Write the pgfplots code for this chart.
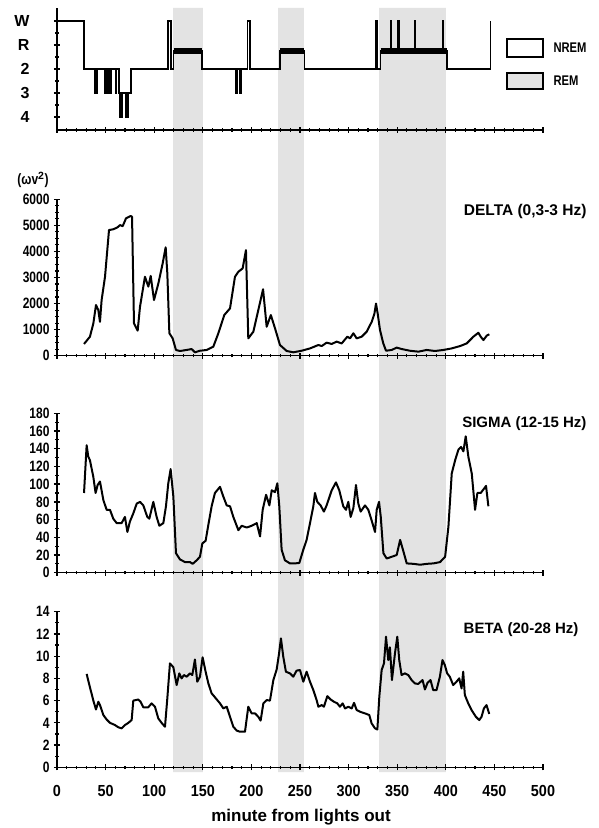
\documentclass[border=0pt]{standalone}
\usepackage{fontspec}
\setmainfont{Liberation Sans}
\newfontfamily\narrowsans[FakeStretch=0.8]{Liberation Sans}
\newfontfamily\xsans[FakeStretch=0.9]{Liberation Sans}
\usepackage{pgfplots}
\pgfplotsset{compat=1.18}

\pgfplotstableread{
x y
27.8 450
33.9 730
37.4 1240
40.1 1945
42.5 1750
44.2 1300
45.9 2135
49.4 3030
53.5 4820
57.9 4850
62.1 4920
64.8 5010
67.6 4970
71 5270
75.8 5360
77.2 5330
79.2 1240
83 960
85.4 1880
90.5 3030
92.2 2840
94 2650
96.4 3060
99.8 2135
104.3 2775
108.7 3540
111.8 4160
113.5 3160
115.6 860
119 665
122.4 220
126.5 180
133.4 220
138.5 255
141.9 130
147.1 190
154 220
160.8 345
166 860
172.1 1560
178 1815
183.1 3030
186.6 3220
191 3350
194.4 4050
196.8 665
202 920
207.1 1750
212 2550
215.7 1110
220 1560
224.3 1050
229.4 410
236.3 180
243.1 130
251.7 190
260.3 280
268.9 410
272.3 370
277.4 500
282.6 450
287.7 540
292.9 470
298.7 730
301.5 665
304.9 860
308.3 665
313.5 730
318.6 920
323.8 1300
326.5 1600
328.2 2000
329.9 1620
332.3 985
335.7 470
338.5 190
344.3 220
349.5 310
354.6 255
363.2 190
371.8 155
380.4 220
388.9 180
397.5 220
406.1 280
414.7 370
421.5 470
428.4 730
433.5 880
435.9 730
438.7 600
442.1 770
444.8 820
}\delta

\pgfplotstableread{
x y
27.8 90
30.5 144
32.2 131
33.9 127
37.4 108
39.7 90
41.8 99
44.2 103
47.7 82
51.1 71
54.5 71
57.9 61
61.4 56
66.5 56
69.9 63
72.4 46
75.1 58
78.5 67
82 78
85.4 80
88.8 76
92.9 63
95 61
99.1 80
102.5 63
105.3 53
109.4 56
112.1 75
114.5 101
116.9 117
119.7 86
122.4 22
126.5 15
131.7 12
136.8 12
139.6 10
143.7 14
147.1 18
149.5 33
152.9 36
155.7 54
159.1 75
162.5 90
167.7 97
171.1 86
174.6 76
178 75
181.4 63
186.6 48
190 53
195.2 51
200.3 53
205.5 56
208.9 41
211.6 71
215.1 88
218.5 76
220.9 93
224.3 91
226.7 101
228.7 75
231.1 26
234.5 14
239.7 10.5
244.8 10.5
249.3 11
253.4 26
256.8 37
260.3 56
263.7 75
265.4 90
267.8 80
271.2 76
274.6 69
277.4 76
282.6 93
287 102
290.4 93
294.5 75
297.3 71
299.7 80
302.1 63
304.9 73
307.6 99
310 78
312.4 69
316.9 76
320.3 71
323.7 59
327.2 46
328.9 71
331.3 80
333.1 63
335.8 22
339.2 16
344.4 18
349.5 20
353 37
356.4 24
359.8 10.5
366.7 10
373.6 9
380.4 10
387.3 10.5
394.1 12
399.3 18
402.7 52
406.1 112
409.6 127
413 139
415.7 142
418.1 137
420.5 154
423.2 131
426.7 112
430.1 71
432.5 90
435.9 90
439.4 95
441.4 98
443.8 75
}\sigmadata

\pgfplotstableread{
x y
30.5 8.4
33.9 7.2
37.4 6.0
40.1 5.2
42.5 5.9
44.2 5.6
47.7 4.7
51.1 4.3
54.5 4.0
59.7 3.8
63.1 3.6
66.5 3.5
69.9 3.8
73.4 4.0
76.8 4.25
78.5 6.0
83.6 6.1
86 5.9
88.8 5.4
93.9 5.4
97.3 5.75
100.8 5.45
104.2 4.4
107.6 4.0
111.1 3.65
113.5 6.2
116.2 9.35
119.7 9.0
123.1 7.4
125.8 8.45
128.2 8.0
130.6 8.3
133.4 8.15
136.8 8.45
139.2 8.3
141.9 9.7
144.3 7.7
147.1 8.15
149.8 9.9
152.9 8.6
155.7 7.55
159.1 6.65
162.5 6.3
167.7 5.75
171.1 5.3
174.6 5.45
178 4.55
181.4 3.65
184.9 3.3
188.3 3.2
193.4 3.2
196.8 5.45
200.3 4.85
203.7 4.85
207.1 4.55
209.5 4.2
212.3 5.75
215.7 6.05
219.1 6.0
222.6 7.85
226 8.8
228.4 10.2
230.4 11.6
232.8 9.95
235.5 8.6
239.7 8.45
243.1 8.15
246.5 8.7
250 8.75
253.4 7.7
256.8 8.6
260.3 7.7
263.7 6.95
267.1 6.05
268.9 5.45
272.3 5.6
274.6 5.45
278.1 6.4
281.5 6.1
284.9 5.9
288.4 5.75
291.1 5.45
293.9 5.75
296.3 5.3
299.7 5.45
303.2 5.3
305.6 5.8
308.3 5.15
311.7 5.0
316.9 4.85
321.3 4.7
323.7 3.95
327.2 3.5
329.6 3.4
331.6 6.35
334 8.75
336.4 9.35
338.5 11.75
340.8 9.65
342.5 10.8
344.6 7.85
347.7 10.25
350.1 11.75
352.1 9.65
354.5 8.3
357.9 8.45
361.4 8.3
364.8 7.85
368.2 7.55
371.6 7.5
376.1 7.85
378.5 7.0
381.2 7.6
384.3 7.85
387 6.95
390.5 6.95
393.9 8.15
396.6 9.65
399 9.2
401.4 8.45
404.1 8.15
407.6 7.4
411 7.7
413.8 8.0
416.2 7.1
417.9 8.6
419.6 6.5
423.1 5.75
426.5 5.15
430.9 4.55
434.4 4.25
436.8 4.55
439.2 5.3
441.9 5.6
444.7 4.8
}\beta

\pgfplotstableread{
x y
1 5
28 3
39 2
41 3
49 2
50 3
51 2
52.5 3
53 2
54.5 3
55 2
56 3
60 2
61 3
64 2
65 1
67 2
71 1
73 2
76 3
114 5
117.5 3
120 3.77
149 3
184 2
185.5 3
188 2
190 3
196 5
198.5 3
229.5 3.77
254.5 3
328 5
329.5 3
333 3.77
343 5
344 3.77
351 5
352 3.77
368 5
369 3.77
396.5 5
397.5 3.77
401 3
446 5
}\hypno

\pgfplotsset{
  panel/.style={
    scale only axis, width=486pt, xmin=0, xmax=500,
    axis lines*=left, axis line style={line width=1.4pt, black},
    xtick={0,50,...,500}, minor x tick num=4,
    tick align=center, major tick length=6pt, minor tick length=3.5pt,
    major tick style={black, line width=1.3pt},
    minor tick style={black, line width=1.1pt},
    /pgf/number format/assume math mode=true,
    /pgf/number format/1000 sep={},
    scaled ticks=false,
    yticklabel style={font=\narrowsans\bfseries\fontsize{15}{15}\selectfont, xshift=-1pt},
    xticklabels={},
    clip=false,
  },
  curve/.style={black, line width=2pt, line join=round, mark=none},
}

\begin{document}
\begin{tikzpicture}
\useasboundingbox (0pt,0pt) rectangle (599pt,828pt);

% REM bands (background)
\begin{axis}[at={(57pt,56pt)}, anchor=south west, scale only axis,
  width=486pt, height=764pt, xmin=0, xmax=500, ymin=0, ymax=1, hide axis]
\addplot[fill=black!11, draw=none] coordinates {(119.5,0)(119.5,1)(150,1)(150,0)} \closedcycle;
\addplot[fill=black!11, draw=none] coordinates {(227.5,0)(227.5,1)(254,1)(254,0)} \closedcycle;
\addplot[fill=black!11, draw=none] coordinates {(331.5,0)(331.5,1)(400,1)(400,0)} \closedcycle;
\end{axis}

% Hypnogram
\begin{axis}[panel, at={(57pt,698pt)}, anchor=south west, height=122pt,
  ymin=0.46, ymax=5.54, ytick={1,2,3,4,5}, yticklabels={4,3,2,R,W},
  minor y tick num=1,
  yticklabel style={font=\bfseries\fontsize{16}{16}\selectfont, xshift=-20pt}]
\addplot[const plot mark left, black, line width=1.6pt, mark=none] table {\hypno};
\addplot[black, line width=6pt, mark=none] coordinates {(120,3.77)(149,3.77)};
\addplot[black, line width=6pt, mark=none] coordinates {(229.5,3.77)(254.5,3.77)};
\addplot[black, line width=6pt, mark=none] coordinates {(333,3.77)(401,3.77)};
\end{axis}

% Delta
\begin{axis}[panel, at={(57pt,472.3pt)}, anchor=south west, height=156.4pt,
  ymin=0, ymax=6000, ytick={0,1000,...,6000}, minor y tick num=3]
\addplot[curve] table {\delta};
\end{axis}

% Sigma
\begin{axis}[panel, at={(57pt,255.3pt)}, anchor=south west, height=159.4pt,
  ymin=0, ymax=180, ytick={0,20,...,180}, minor y tick num=1]
\addplot[curve] table {\sigmadata};
\end{axis}

% Beta
\begin{axis}[panel, at={(57pt,60.7pt)}, anchor=south west, height=155.6pt,
  ymin=0, ymax=14, ytick={0,2,...,14}, minor y tick num=1,
  xticklabels={0,50,100,150,200,250,300,350,400,450,500},
  xticklabel style={font=\xsans\bfseries\fontsize{16}{16}\selectfont, yshift=-11pt}]
\addplot[curve] table {\beta};
\end{axis}

% legend
\draw[line width=1.3pt] (507pt,771pt) rectangle (543pt,789pt);
\fill[black!11] (507pt,739pt) rectangle (543pt,755pt);
\draw[line width=1.3pt] (507pt,739pt) rectangle (543pt,755pt);
\node[anchor=west, font=\narrowsans\bfseries\fontsize{14}{14}\selectfont] at (550pt,780pt) {NREM};
\node[anchor=west, font=\narrowsans\bfseries\fontsize{14}{14}\selectfont] at (550pt,747pt) {REM};

% titles
\node[anchor=east, font=\bfseries\fontsize{15.5}{15.5}\selectfont] at (590pt,617pt) {DELTA (0,3-3 Hz)};
\node[anchor=east, font=\bfseries\fontsize{15}{15}\selectfont] at (590pt,404pt) {SIGMA (12-15 Hz)};
\node[anchor=east, font=\bfseries\fontsize{15}{15}\selectfont] at (582pt,198pt) {BETA (20-28 Hz)};
\node[font=\narrowsans\bfseries\fontsize{15}{15}\selectfont] at (33pt,648pt) {(ωv$^{\mathbf{2}}$)};
\node[font=\bfseries\fontsize{17}{17}\selectfont] at (301pt,11pt) {minute from lights out};
\end{tikzpicture}
\end{document}
